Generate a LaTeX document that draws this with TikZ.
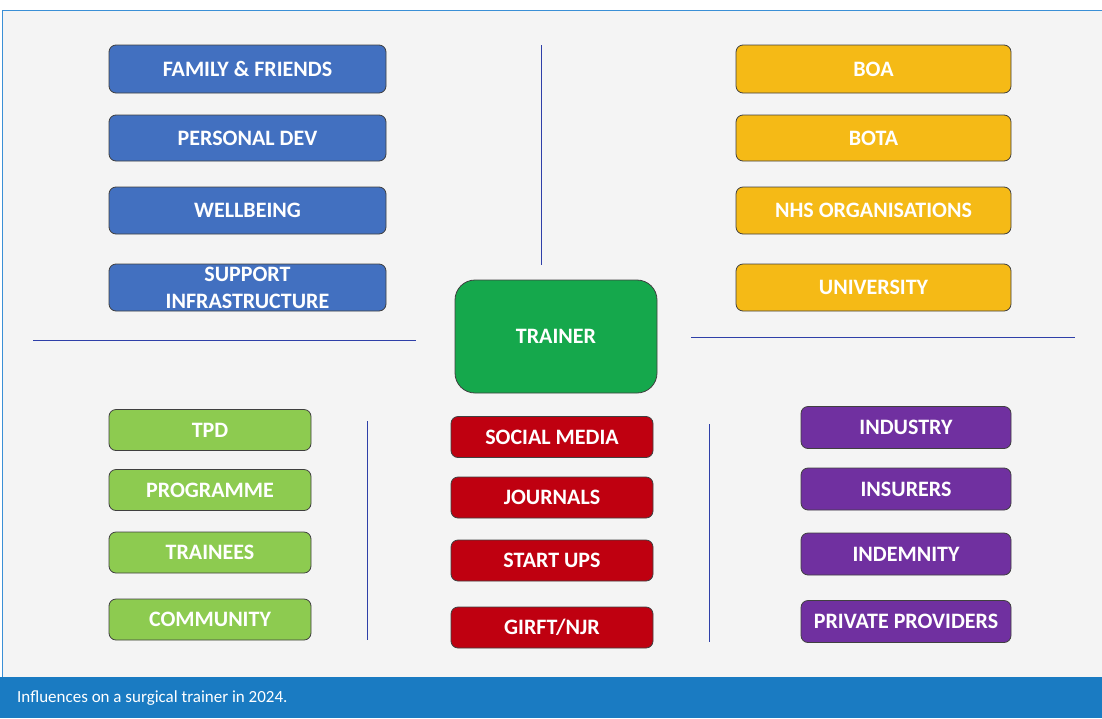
\documentclass[tikz,border=0pt]{standalone}
\usepackage{fontspec}
\setmainfont{Carlito}
\usetikzlibrary{positioning}

\definecolor{panelgrey}{HTML}{F4F4F4}
\definecolor{framecol}{HTML}{3A8FD6}
\definecolor{capbar}{HTML}{1A7BC2}
\definecolor{rulecol}{HTML}{2E3FA8}
\definecolor{famblue}{HTML}{4270C0}
\definecolor{orgyellow}{HTML}{F5BA16}
\definecolor{trgreen}{HTML}{15A84C}
\definecolor{progreen}{HTML}{8DCB50}
\definecolor{medred}{HTML}{BF0010}
\definecolor{indpurple}{HTML}{7030A0}

\tikzset{
    tile/.style={draw=black!75, line width=0.8pt, rounded corners=7pt,
        inner sep=0pt, text=white, align=center,
        font=\bfseries\fontsize{22}{27}\selectfont},
    divider/.style={draw=rulecol, line width=1pt}
}

\begin{document}
\begin{tikzpicture}[x=1pt,y=-1pt]
    \useasboundingbox (0,0) rectangle (1102,718);
    % panel and caption bar
    \fill[panelgrey] (2,10) rectangle (1102,677);
    \draw[framecol, line width=1pt] (2,677) -- (2,10) -- (1102,10);
    \fill[capbar] (0,677) rectangle (1102,718);
    \node[anchor=west, inner sep=0pt, text=white,
        font=\fontsize{17}{20}\selectfont]
        (caption) at (17,698) {Influences on a surgical trainer in 2024.};

    % dividing lines
    \coordinate (vtopA) at (541,45);   \coordinate (vtopB) at (541,265);
    \coordinate (hleftA) at (33,340);  \coordinate (hleftB) at (416,340);
    \coordinate (hrightA) at (691,337); \coordinate (hrightB) at (1075,337);
    \coordinate (vleftA) at (367,421); \coordinate (vleftB) at (367,640);
    \coordinate (vrightA) at (709,424); \coordinate (vrightB) at (709,642);
    \draw[divider] (vtopA) -- (vtopB);
    \draw[divider] (hleftA) -- (hleftB);
    \draw[divider] (hrightA) -- (hrightB);
    \draw[divider] (vleftA) -- (vleftB);
    \draw[divider] (vrightA) -- (vrightB);

    % centre
    \node[tile, fill=trgreen, rounded corners=20pt, minimum width=202pt,
        minimum height=113pt] (trainer) at (556,336.5) {TRAINER};

    % personal side
    \foreach \n/\y/\h/\t in
        {fam/69/48/FAMILY \& FRIENDS, dev/138/46/PERSONAL DEV,
         well/210.5/47/WELLBEING}
        {
            \node[tile, fill=famblue, minimum width=277pt, minimum height=\h pt]
                (\n) at (247.5,\y) {\t};
        }
    \node[tile, fill=famblue, minimum width=277pt, minimum height=47pt]
        (supp) at (247.5,287.5) {};
    \node[text=white, align=center, inner sep=0pt,
        font=\bfseries\fontsize{22}{27}\selectfont]
        (supptext) at (supp.center) {SUPPORT\\INFRASTRUCTURE};

    % organisations
    \foreach \n/\y/\h/\t in
        {boa/69/48/BOA, bota/138/46/BOTA,
         nhs/210.5/47/NHS ORGANISATIONS, uni/287.5/47/UNIVERSITY}
        {
            \node[tile, fill=orgyellow, minimum width=275pt, minimum height=\h pt]
                (\n) at (873.5,\y) {\t};
        }

    % programme
    \foreach \n/\y/\t in
        {tpd/430/TPD, prog/490/PROGRAMME,
         trainees/552.5/TRAINEES, comm/619.5/COMMUNITY}
        {
            \node[tile, fill=progreen, minimum width=202pt, minimum height=41pt]
                (\n) at (210,\y) {\t};
        }

    % media
    \foreach \n/\y/\t in
        {social/437/SOCIAL MEDIA, journals/497.5/JOURNALS,
         startups/560.5/START UPS, girft/627.5/{GIRFT/NJR}}
        {
            \node[tile, fill=medred, minimum width=202pt, minimum height=41pt]
                (\n) at (552,\y) {\t};
        }

    % industry
    \foreach \n/\y/\t in
        {industry/427.5/INDUSTRY, insurers/489/INSURERS,
         indemnity/554/INDEMNITY, private/621.5/PRIVATE PROVIDERS}
        {
            \node[tile, fill=indpurple, minimum width=210pt, minimum height=42pt]
                (\n) at (906,\y) {\t};
        }
\end{tikzpicture}
\end{document}
